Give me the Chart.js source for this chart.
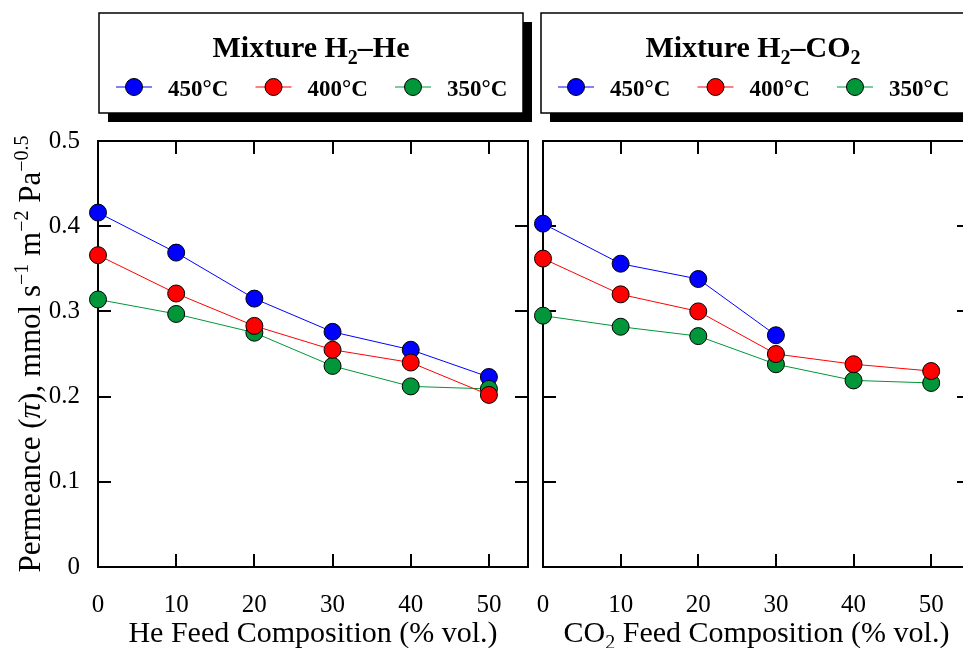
<!DOCTYPE html>
<html>
<head>
<meta charset="utf-8">
<script src="https://cdn.jsdelivr.net/npm/chart.js@4.4.0/dist/chart.umd.min.js"></script>
<style>
html, body { margin: 0; padding: 0; background: #fff; overflow: hidden; }
#wrap { position: relative; width: 963px; height: 648px; overflow: hidden; }
#wrap canvas { position: absolute; left: 0; top: 0; }
</style>
</head>
<body>
<div id="wrap">
  <canvas id="chartHe" width="963" height="648"></canvas>
  <canvas id="chartCO2" width="980" height="648"></canvas>
</div>
<script>
// Состав сырья, % об.
const compositions = [0, 10, 20, 30, 40, 50];
const temperatures = ['450°C', '400°C', '350°C'];
const seriesColors = ['#0000ff', '#ff0000', '#009639'];
const yTicks = [0, 0.1, 0.2, 0.3, 0.4, 0.5];

// Смесь H2-He
const he450 = [0.416, 0.369, 0.315, 0.276, 0.255, 0.223];
const he400 = [0.366, 0.321, 0.283, 0.255, 0.240, 0.202];
const he350 = [0.314, 0.297, 0.275, 0.236, 0.212, 0.209];

// Смесь H2-CO2
const co2_450 = [0.403, 0.356, 0.338, 0.272];
const co2_400 = [0.362, 0.320, 0.300, 0.250, 0.238, 0.230];
const co2_350 = [0.295, 0.282, 0.271, 0.238, 0.219, 0.216];

const FONT = "'Liberation Serif', 'Times New Roman', serif";

// Рисуем текст с индексами (нижними и верхними)
function richFont(p, size, weight) {
    let s = size;
    if (p.sub || p.sup) s = Math.round(size * 0.65);
    return (p.italic ? 'italic ' : '') + weight + ' ' + s + 'px ' + FONT;
}

function drawRich(ctx, parts, x, y, size, weight, align) {
    let total = 0;
    const widths = parts.map(p => {
        ctx.font = richFont(p, size, weight);
        const w = ctx.measureText(p.t).width;
        total += w;
        return w;
    });
    let cx = align === 'center' ? x - total / 2 : x;
    ctx.textAlign = 'left';
    ctx.textBaseline = 'alphabetic';
    parts.forEach((p, i) => {
        ctx.font = richFont(p, size, weight);
        let dy = 0;
        if (p.sub) dy = size * 0.22;
        if (p.sup) dy = -size * 0.38;
        ctx.fillText(p.t, cx, y + dy);
        cx += widths[i];
    });
}

// Рамка, внутренние засечки, легенда и подписи осей
const panelDecor = {
    id: 'panelDecor',
    beforeDatasetsDraw(chart, args, opts) {
        const { ctx, chartArea: a, scales: { x, y } } = chart;
        ctx.save();
        ctx.strokeStyle = '#000';
        ctx.lineWidth = 2;
        ctx.strokeRect(a.left, a.top, a.right - a.left, a.bottom - a.top);
        ctx.beginPath();
        y.ticks.forEach(t => {
            const py = Math.round(y.getPixelForValue(t.value));
            if (py <= a.top + 1 || py >= a.bottom - 1) return;
            ctx.moveTo(a.left, py); ctx.lineTo(a.left + 13, py);
            ctx.moveTo(a.right, py); ctx.lineTo(a.right - 13, py);
        });
        x.ticks.forEach(t => {
            const px = Math.round(x.getPixelForValue(t.value));
            if (px <= a.left + 1 || px >= a.right - 1) return;
            ctx.moveTo(px, a.bottom); ctx.lineTo(px, a.bottom - 13);
            ctx.moveTo(px, a.top); ctx.lineTo(px, a.top + 13);
        });
        ctx.stroke();
        ctx.restore();
    },
    afterDraw(chart, args, opts) {
        const { ctx, chartArea: a } = chart;
        const b = opts.box;
        ctx.save();

        // легенда с тенью
        ctx.fillStyle = '#000';
        ctx.fillRect(b.x + 9, b.y + 9, b.w, b.h);
        ctx.fillStyle = '#fff';
        ctx.fillRect(b.x, b.y, b.w, b.h);
        ctx.strokeStyle = '#000';
        ctx.lineWidth = 1.5;
        ctx.strokeRect(b.x, b.y, b.w, b.h);

        ctx.fillStyle = '#000';
        drawRich(ctx, opts.title, b.x + b.w / 2, b.y + 44, 30, 'bold', 'center');

        const rowY = b.y + 74;
        chart.data.datasets.forEach(ds => {
            const i = temperatures.indexOf(ds.label);
            const sx = b.x + 17 + i * 139.5;
            ctx.strokeStyle = ds.borderColor;
            ctx.lineWidth = 1;
            ctx.beginPath();
            ctx.moveTo(sx, rowY); ctx.lineTo(sx + 36, rowY);
            ctx.stroke();
            ctx.beginPath();
            ctx.arc(sx + 18, rowY, 8.5, 0, Math.PI * 2);
            ctx.fillStyle = ds.backgroundColor;
            ctx.fill();
            ctx.strokeStyle = '#000';
            ctx.stroke();
            ctx.fillStyle = '#000';
            ctx.font = 'bold 23px ' + FONT;
            ctx.textAlign = 'left';
            ctx.textBaseline = 'alphabetic';
            ctx.fillText(ds.label, sx + 52, rowY + 9);
        });

        // подпись оси X
        drawRich(ctx, opts.xTitle, (a.left + a.right) / 2, 642, 30, 'normal', 'center');

        // подпись оси Y
        if (opts.yTitle) {
            ctx.translate(40, (a.top + a.bottom) / 2);
            ctx.rotate(-Math.PI / 2);
            drawRich(ctx, opts.yTitle, 0, 0, 31, 'normal', 'center');
        }
        ctx.restore();
    }
};

function makeDataset(label, data, color, order) {
    return {
        label: label,
        data: data.map((v, i) => ({ x: compositions[i], y: v })),
        borderColor: color,
        backgroundColor: color,
        borderWidth: 1,
        pointRadius: 8.5,
        pointHoverRadius: 8.5,
        pointBorderColor: '#000',
        pointBorderWidth: 1,
        pointBackgroundColor: color,
        tension: 0,
        clip: false,
        order: order
    };
}

function createPanel(elementId, series, cfg) {
    const ctx = document.getElementById(elementId).getContext('2d');
    return new Chart(ctx, {
        type: 'line',
        data: {
            datasets: series.map((d, i) => makeDataset(temperatures[i], d, seriesColors[i], [2, 0, 1][i]))
        },
        options: {
            responsive: false,
            animation: false,
            events: [],
            layout: { padding: { top: 141, right: cfg.padRight, left: 0, bottom: 0 } },
            plugins: {
                legend: { display: false },
                tooltip: { enabled: false },
                panelDecor: cfg.decor
            },
            scales: {
                x: {
                    type: 'linear',
                    min: 0,
                    max: 55,
                    grid: { display: false },
                    border: { display: false },
                    afterBuildTicks: s => { s.ticks = compositions.map(v => ({ value: v })); },
                    afterFit: s => { s.height = 81; },
                    ticks: {
                        padding: 15,
                        color: '#000',
                        maxRotation: 0,
                        font: { family: FONT, size: 25 }
                    }
                },
                y: {
                    min: 0,
                    max: 0.5,
                    grid: { display: false },
                    border: { display: false },
                    afterBuildTicks: s => { s.ticks = yTicks.map(v => ({ value: v })); },
                    afterFit: s => { s.width = cfg.yWidth; },
                    ticks: {
                        display: cfg.yLabels,
                        padding: 10,
                        color: '#000',
                        font: { family: FONT, size: 25 },
                        callback: v => v === 0 ? '0' : v.toFixed(1)
                    }
                }
            }
        },
        plugins: [panelDecor]
    });
}

createPanel('chartHe', [he450, he400, he350], {
    padRight: 435,
    yWidth: 98,
    yLabels: true,
    decor: {
        box: { x: 99, y: 13, w: 424, h: 100 },
        title: [{ t: 'Mixture H' }, { t: '2', sub: true }, { t: '–He' }],
        xTitle: [{ t: 'He Feed Composition (% vol.)' }],
        yTitle: [
            { t: 'Permeance (' }, { t: 'π', italic: true }, { t: '), mmol s' },
            { t: '−1', sup: true }, { t: ' m' }, { t: '−2', sup: true },
            { t: ' Pa' }, { t: '−0.5', sup: true }
        ]
    }
});

createPanel('chartCO2', [co2_450, co2_400, co2_350], {
    padRight: 10,
    yWidth: 543,
    yLabels: false,
    decor: {
        box: { x: 541, y: 13, w: 424, h: 100 },
        title: [{ t: 'Mixture H' }, { t: '2', sub: true }, { t: '–CO' }, { t: '2', sub: true }],
        xTitle: [{ t: 'CO' }, { t: '2', sub: true }, { t: ' Feed Composition (% vol.)' }],
        yTitle: null
    }
});
</script>
</body>
</html>
